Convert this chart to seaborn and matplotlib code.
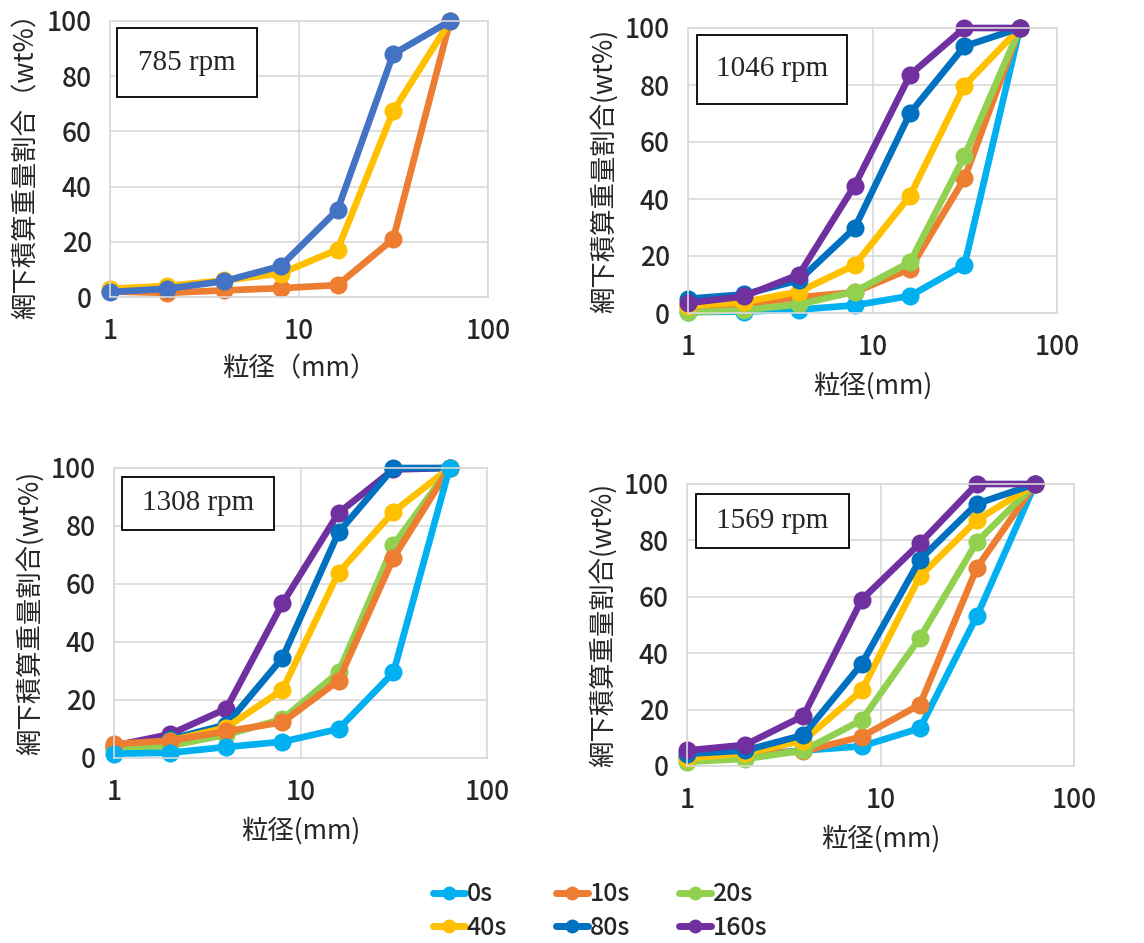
import numpy as np
import pandas as pd
import matplotlib
matplotlib.use("Agg")
import matplotlib.pyplot as plt
from matplotlib.lines import Line2D
from matplotlib.patches import Rectangle
import seaborn as sns

sns.set_style("white")
plt.rcParams['font.family'] = ['Noto Sans CJK JP', 'DejaVu Sans']
plt.rcParams['font.weight'] = 'medium'

# ---------------- data ----------------
sizes = [1, 2, 4, 8, 16, 31.5, 63]
times = ["0s", "10s", "20s", "40s", "80s", "160s"]
colors = {"0s": "#00B0F0", "10s": "#ED7D31", "20s": "#92D050",
          "40s": "#FFC000", "80s": "#0070C0", "160s": "#7030A0"}

# 785 rpm (three series only)
rpm785_10s = [2.0, 1.5, 2.4, 3.2, 4.3, 21.0, 100]
rpm785_40s = [3.0, 4.0, 6.0, 8.5, 17.2, 67.3, 100]
rpm785_80s = [1.8, 3.0, 5.7, 11.2, 31.6, 88.0, 100]

# 1046 rpm
rpm1046_0s = [0.3, 0.5, 1.2, 2.7, 6.0, 16.8, 100]
rpm1046_10s = [2.0, 3.0, 5.5, 7.3, 15.5, 47.2, 100]
rpm1046_20s = [0.2, 1.0, 3.0, 7.5, 17.9, 55.0, 100]
rpm1046_40s = [2.5, 3.8, 7.5, 16.8, 41.2, 79.8, 100]
rpm1046_80s = [5.0, 6.5, 11.5, 29.8, 70.2, 93.6, 100]
rpm1046_160s = [3.5, 5.8, 13.5, 44.7, 83.6, 100, 100]

# 1308 rpm
rpm1308_0s = [1.5, 1.8, 3.8, 5.6, 10.0, 29.5, 100]
rpm1308_10s = [4.8, 6.0, 9.2, 12.3, 26.7, 69.0, 100]
rpm1308_20s = [3.0, 4.2, 8.0, 13.4, 29.6, 73.4, 100]
rpm1308_40s = [4.0, 6.0, 10.5, 23.5, 63.9, 84.9, 100]
rpm1308_80s = [3.5, 6.5, 11.5, 34.5, 77.8, 100, 100]
rpm1308_160s = [4.2, 8.2, 17.0, 53.3, 84.5, 99.5, 100]

# 1569 rpm
rpm1569_0s = [3.2, 4.0, 5.5, 7.0, 13.4, 53.2, 100]
rpm1569_10s = [3.0, 4.0, 5.2, 10.4, 21.8, 70.3, 100]
rpm1569_20s = [1.5, 2.5, 5.5, 16.3, 45.5, 79.5, 100]
rpm1569_40s = [2.7, 4.5, 9.0, 26.8, 67.3, 87.2, 100]
rpm1569_80s = [4.3, 5.5, 11.0, 36.2, 73.2, 93.0, 100]
rpm1569_160s = [5.5, 7.5, 17.8, 59.0, 79.0, 100, 100]

panel_titles = ["785 rpm", "1046 rpm", "1308 rpm", "1569 rpm"]
xlabels = ["粒径（mm）", "粒径(mm)", "粒径(mm)", "粒径(mm)"]
ylabels = ["網下積算重量割合（wt%）", "網下積算重量割合(wt%)",
           "網下積算重量割合(wt%)", "網下積算重量割合(wt%)"]

panels = [
    {"10s": rpm785_10s, "40s": rpm785_40s, "80s": rpm785_80s},
    {"0s": rpm1046_0s, "10s": rpm1046_10s, "20s": rpm1046_20s,
     "40s": rpm1046_40s, "80s": rpm1046_80s, "160s": rpm1046_160s},
    {"0s": rpm1308_0s, "10s": rpm1308_10s, "20s": rpm1308_20s,
     "40s": rpm1308_40s, "80s": rpm1308_80s, "160s": rpm1308_160s},
    {"0s": rpm1569_0s, "10s": rpm1569_10s, "20s": rpm1569_20s,
     "40s": rpm1569_40s, "80s": rpm1569_80s, "160s": rpm1569_160s},
]

# ---------------- layout (pixels) ----------------
W, H = 1144, 943
fig = plt.figure(figsize=(W / 100, H / 100), dpi=100)

axes_px = [(110, 21, 488, 297), (688, 28, 1057, 313),
           (114, 468, 487, 758), (687, 484, 1074, 766)]
box_px = [(117, 28, 257, 97), (697, 35, 847, 104),
          (122, 477, 274, 530), (696, 494, 849, 548)]
draw_orders = [["10s", "40s", "80s"],
               times,
               times[::-1],
               times]
panel_colors = [{"10s": "#ED7D31", "40s": "#FFC000", "80s": "#4472C4"},
                colors, colors, colors]

grid_c = "#D9D9D9"

for i in range(4):
    x0, y0, x1, y1 = axes_px[i]
    ax = fig.add_axes([x0 / W, 1 - y1 / H, (x1 - x0) / W, (y1 - y0) / H])
    rows = []
    for t, vals in panels[i].items():
        for s, v in zip(sizes, vals):
            rows.append({"size": s, "wt": v, "time": t})
    df = pd.DataFrame(rows)
    sns.lineplot(data=df, x="size", y="wt", hue="time",
                 hue_order=draw_orders[i], palette=panel_colors[i],
                 marker="o", markersize=13, markeredgewidth=0,
                 linewidth=4.8, legend=False, ax=ax, sort=False)
    ax.set_xscale("log")
    ax.set_xlim(1, 100)
    ax.set_ylim(0, 100)
    ax.set_xticks([1, 10, 100])
    ax.set_xticklabels(["1", "10", "100"])
    ax.xaxis.set_minor_locator(matplotlib.ticker.NullLocator())
    ax.set_yticks([0, 20, 40, 60, 80, 100])
    ax.set_yticklabels(["0", "20", "40", "60", "80", "100"])
    ax.tick_params(axis="x", length=0, labelsize=19, pad=15)
    ax.tick_params(axis="y", length=0, labelsize=19, pad=13)
    ax.grid(True, color=grid_c, linewidth=1.2)
    ax.set_axisbelow(True)
    for sp in ax.spines.values():
        sp.set_color(grid_c)
        sp.set_linewidth(1.2)
    ax.set_xlabel(xlabels[i], fontsize=19, labelpad=8)
    ax.set_ylabel(ylabels[i], fontsize=19, labelpad=5)
    for line in ax.lines:
        line.set_clip_on(False)

    bx0, by0, bx1, by1 = box_px[i]
    rect = Rectangle((bx0 / W, 1 - by1 / H), (bx1 - bx0) / W, (by1 - by0) / H,
                     transform=fig.transFigure, facecolor="white",
                     edgecolor="black", linewidth=1.3, zorder=5)
    fig.patches.append(rect)
    fig.text((bx0 + bx1) / 2 / W, 1 - (by0 + by1) / 2 / H, panel_titles[i],
             ha="center", va="center", fontsize=21, fontweight="normal",
             family="Liberation Serif", zorder=6)

# legend
handles = []
order = ["0s", "40s", "10s", "80s", "20s", "160s"]
for t in order:
    handles.append(Line2D([0], [0], color=colors[t], lw=5, marker="o",
                          markersize=10, markeredgewidth=0, label=t))
fig.legend(handles=handles, loc="center", bbox_to_anchor=(600 / W, 1 - 911 / H),
           ncol=3, frameon=False, fontsize=18, handlelength=1.3,
           handletextpad=0.05, columnspacing=1.95, labelspacing=0.3)

fig.savefig("out.png", dpi=100)
